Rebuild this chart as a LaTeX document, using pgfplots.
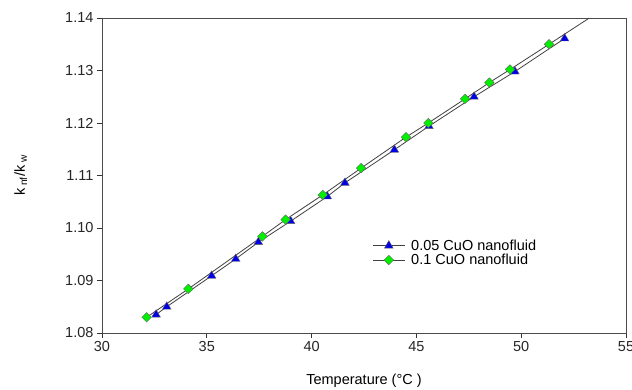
\documentclass[border=0pt]{standalone}
\usepackage{fontspec}
\setmainfont{Liberation Sans}
\usepackage{pgfplots}
\pgfplotsset{compat=1.18}
\definecolor{mgreen}{RGB}{0,240,0}
\definecolor{mblue}{RGB}{0,0,230}
\begin{document}
\begin{tikzpicture}
\useasboundingbox (-102pt,-57pt) rectangle (530pt,333pt);
\begin{axis}[
  scale only axis, width=524pt, height=315pt,
  at={(0pt,0pt)}, anchor=south west,
  xmin=30, xmax=55, ymin=1.08, ymax=1.14,
  xtick={30,35,40,45,50,55},
  ytick={1.08,1.09,1.10,1.11,1.12,1.13,1.14},
  yticklabel style={/pgf/number format/.cd, fixed, fixed zerofill, precision=2},
  /pgf/number format/assume math mode=true,
  tick align=outside, tick pos=left,
  major tick length=5pt,
  axis line style={black!70, line width=0.8pt},
  tick style={black!80, line width=0.8pt},
  font=\fontsize{14.5}{16}\selectfont,
  ticklabel style={font=\fontsize{14.5}{16}\selectfont, text=black!85},
  xlabel={Temperature (°C )},
  ylabel={k\textsubscript{ nf}/k\textsubscript{ w}},
  xlabel style={at={(axis description cs:0.5,-0.152)}, anchor=center},
  ylabel style={at={(axis description cs:-0.155,0.5)}, anchor=center},
  legend style={at={(0.51,0.31)}, anchor=north west, draw=none, fill=none,
    font=\fontsize{14.5}{16}\selectfont, row sep=-1.5pt,
    /tikz/every odd column/.append style={column sep=4pt}},
  legend cell align=left,
  legend image code/.code={\draw[mark repeat=2,mark phase=2] plot coordinates {(0pt,0pt)(16pt,0pt)(32pt,0pt)};},
]
\addplot[black!75, line width=0.8pt, mark=triangle*, mark size=5pt,
  mark options={fill=mblue, draw=black!60, line width=0.4pt}] coordinates {
(32.58,1.0835)(33.09,1.0850)(35.23,1.0909)(36.38,1.0941)(37.46,1.0973)
(39.00,1.1013)(40.75,1.1060)(41.59,1.1086)(43.95,1.1149)(45.60,1.1194)
(47.75,1.1250)(49.70,1.1298)(52.07,1.1361)};
\addlegendentry{0.05 CuO nanofluid}
\addplot[black!75, line width=0.8pt, mark=square*, mark size=3.4pt,
  mark options={fill=mgreen, draw=black!60, line width=0.4pt, rotate=45}] coordinates {
(32.13,1.0830)(34.12,1.0884)(37.65,1.0984)(38.76,1.1016)(40.53,1.1063)
(42.36,1.1114)(44.50,1.1173)(45.57,1.1200)(47.32,1.1246)(48.48,1.1277)
(49.47,1.1302)(51.33,1.1350)};
\addlegendentry{0.1 CuO nanofluid}
\addplot[black!75, line width=0.8pt, no marks, forget plot] coordinates {
(51.33,1.1350)(53.25,1.1400)};
\end{axis}
\end{tikzpicture}
\end{document}
